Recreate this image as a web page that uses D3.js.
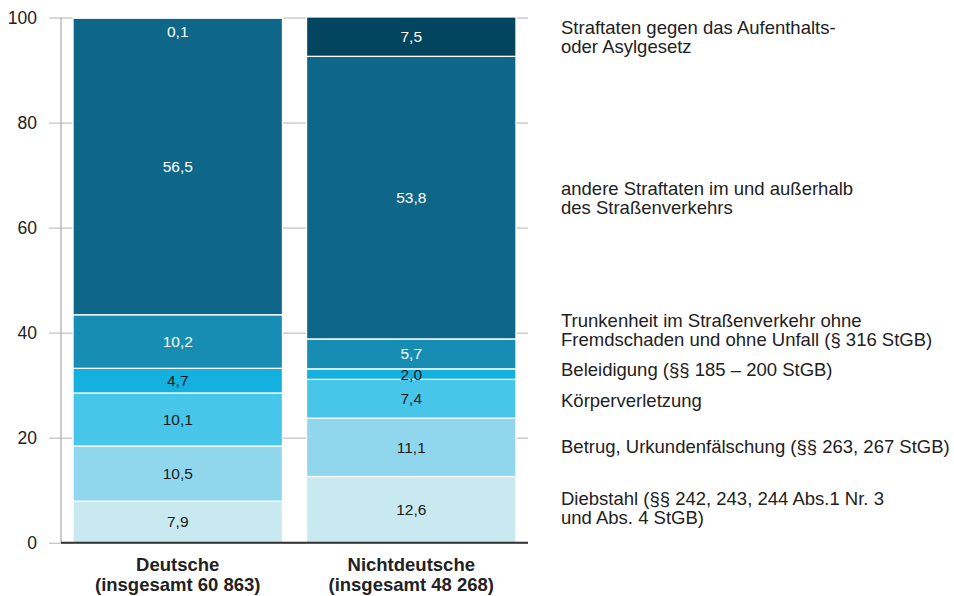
<!DOCTYPE html>
<html>
<head lang="de">
    <meta charset="UTF-8">
    <title>Tatverdächtige nach Deliktsgruppen</title>
    <style>
        body { margin: 0; background: #fff; }
        svg { display: block; font-family: "Liberation Sans", Arial, sans-serif; }
        .tick text { fill: #222; font-size: 17.5px; }
        .tick line { stroke: #b4b4b4; }
        .val { font-size: 15.5px; text-anchor: middle; }
        .legend { font-size: 18.5px; fill: #222; }
        .cat { font-size: 18.5px; font-weight: bold; fill: #222; text-anchor: middle; }
    </style>
</head>
<body>
<svg width="954" height="596"></svg>

<script src="https://cdn.jsdelivr.net/npm/d3@7/dist/d3.min.js"></script>
<script>
    // Anteile in Prozent, von unten nach oben gestapelt
    var categories = ["Deutsche", "Nichtdeutsche"];
    var categoryLines = [
        ["Deutsche", "(insgesamt 60 863)"],
        ["Nichtdeutsche", "(insgesamt 48 268)"]
    ];
    var seriesKeys = ["diebstahl", "betrug", "koerper", "beleidigung", "trunkenheit", "andere", "aufenthalt"];
    var deutsche      = [7.9, 10.5, 10.1, 4.7, 10.2, 56.5, 0.1];
    var nichtdeutsche = [12.6, 11.1, 7.4, 2.0, 5.7, 53.8, 7.5];
    var legendLines = [
        ["Diebstahl (§§ 242, 243, 244 Abs.1 Nr. 3", "und Abs. 4 StGB)"],
        ["Betrug, Urkundenfälschung (§§ 263, 267 StGB)"],
        ["Körperverletzung"],
        ["Beleidigung (§§ 185 – 200 StGB)"],
        ["Trunkenheit im Straßenverkehr ohne", "Fremdschaden und ohne Unfall (§ 316 StGB)"],
        ["andere Straftaten im und außerhalb", "des Straßenverkehrs"],
        ["Straftaten gegen das Aufenthalts-", "oder Asylgesetz"]
    ];
    var yTicks = [0, 20, 40, 60, 80, 100];

    var colors = ["#c8e9f0", "#90d7ed", "#48c6e9", "#13b0e0", "#178db4", "#0e6689", "#03455f"];
    var darkText = [true, true, true, true, false, false, false];
    // Grundlinien der Legendentexte (erste Zeile)
    var legendY = [505, 453, 407, 376, 326.5, 195, 34.3];

    var table = categories.map(function (c, i) {
        var row = {cat: c};
        var vals = i === 0 ? deutsche : nichtdeutsche;
        seriesKeys.forEach(function (k, j) { row[k] = vals[j]; });
        return row;
    });

    var svg = d3.select("svg");
    var plotLeft = 61, plotRight = 528, plotBottom = 542.7, plotTop = 17.5;

    var x = d3.scaleBand()
            .domain(categories)
            .range([plotLeft, plotRight])
            .paddingInner(0.103)
            .paddingOuter(0.0515);

    var y = d3.scaleLinear()
            .domain([0, 100])
            .range([plotBottom, plotTop]);

    // Gitterlinien + Beschriftung
    var axis = svg.append("g")
            .attr("transform", "translate(" + plotRight + ",0)")
            .call(d3.axisLeft(y).tickValues(yTicks).tickSize(plotRight - 49).tickPadding(12));
    axis.select(".domain").remove();
    axis.selectAll(".tick text").style("font-family", "inherit");

    svg.append("line")
            .attr("x1", plotLeft).attr("x2", plotLeft)
            .attr("y1", y(100)).attr("y2", plotBottom)
            .attr("stroke", "#999");

    var stack = d3.stack().keys(seriesKeys)(table);

    var layer = svg.selectAll(".layer")
            .data(stack)
            .enter()
            .append("g")
            .attr("class", "layer")
            .attr("fill", function (d, i) { return colors[i]; });

    layer.selectAll("rect")
            .data(function (d) { return d; })
            .enter()
            .append("rect")
            .attr("x", function (d) { return x(d.data.cat); })
            .attr("y", function (d) { return y(d[1]); })
            .attr("width", x.bandwidth())
            .attr("height", function (d) { return y(d[0]) - y(d[1]); })
            .attr("stroke", "#fff")
            .attr("stroke-width", 1.3);

    layer.each(function (s, i) {
        d3.select(this).selectAll("text")
                .data(s)
                .enter()
                .append("text")
                .attr("class", "val")
                .attr("fill", darkText[i] ? "#1a1a1a" : "#fff")
                .attr("x", function (d) { return x(d.data.cat) + x.bandwidth() / 2; })
                .attr("y", function (d) {
                    var v = d[1] - d[0];
                    if (v < 1) return y(d[1]) + 14;
                    return (y(d[0]) + y(d[1])) / 2;
                })
                .attr("dy", "0.35em")
                .text(function (d) { return d3.format(".1f")(d[1] - d[0]).replace(".", ","); });
    });

    // Grundlinie
    svg.append("line")
            .attr("x1", plotLeft).attr("x2", plotRight)
            .attr("y1", plotBottom).attr("y2", plotBottom)
            .attr("stroke", "#333")
            .attr("stroke-width", 2);

    svg.selectAll(".cat")
            .data(categoryLines)
            .enter()
            .append("text")
            .attr("class", "cat")
            .attr("x", function (d, i) { return x(categories[i]) + x.bandwidth() / 2; })
            .attr("y", 571)
            .selectAll("tspan")
            .data(function (d) { return d; })
            .enter()
            .append("tspan")
            .attr("x", function () { return d3.select(this.parentNode).attr("x"); })
            .attr("dy", function (d, i) { return i === 0 ? 0 : 20; })
            .text(function (d) { return d; });

    svg.selectAll(".legend")
            .data(legendLines)
            .enter()
            .append("text")
            .attr("class", "legend")
            .attr("x", 561)
            .attr("y", function (d, i) { return legendY[i]; })
            .selectAll("tspan")
            .data(function (d) { return d; })
            .enter()
            .append("tspan")
            .attr("x", 561)
            .attr("dy", function (d, i) { return i === 0 ? 0 : 19; })
            .text(function (d) { return d; });
</script>
</body>
</html>
